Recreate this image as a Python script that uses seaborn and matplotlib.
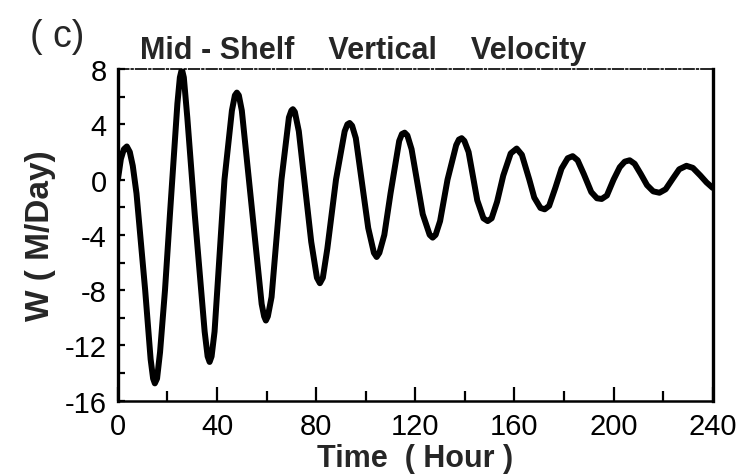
import pandas as pd
import matplotlib
matplotlib.use('Agg')
from matplotlib import pyplot as plt
from matplotlib.ticker import MultipleLocator
import seaborn as sns

# 读图得到的曲线点 (小时, 垂向速度 m/day)
time_hour = [0, 1.2, 2.4, 3.6, 4.8, 6, 7.5, 11, 13.2, 14.2, 14.9, 15.8, 17, 19, 21, 24, 25, 25.8,
             26.6, 28, 31, 35, 36.2, 37, 37.8, 39, 43, 46, 47.2, 48, 48.8, 50, 54, 58, 59,
             59.7, 60.5, 62, 66, 69, 70, 70.6, 71.4, 73, 78, 80.3, 81.5, 82.7, 84.5, 88,
             91.5, 92.6, 93.5, 94.5, 96, 101, 103.3, 104.4, 105.5, 107.5, 110, 113.5, 114.6,
             115.7, 116.8, 118.5, 123, 125.8, 127, 128.2, 130, 133, 136.5, 137.6, 138.7,
             139.8, 141.5, 145, 147.5, 149.2, 150.8, 153, 155.5, 158.5, 160.9, 163, 166,
             168, 170.5, 172.2, 174, 176.5, 179, 181.5, 183.5, 185.5, 188, 191, 193.3,
             195.2, 197.3, 200, 202.5, 204.5, 206.5, 208.5, 211, 213.5, 216, 218.5, 221,
             224, 226.5, 229.4, 232, 235, 237.5, 240]
w_velocity = [0, 1.5, 2.2, 2.4, 2.0, 1.0, -1.0, -8, -13, -14.4, -14.75, -14.4, -12.5, -8, -2.5, 5.5, 7.4, 8.0,
              7.4, 4.5, -2.5, -11, -12.8, -13.2, -12.8, -11, 0, 5, 6.1, 6.3, 6.1, 5.0, -2, -9, -9.9,
              -10.2, -9.9, -8.5, 0, 4.5, 5.0, 5.1, 4.9, 3.5, -4.5, -7.1, -7.5, -7.1, -5, 0,
              3.5, 4.0, 4.1, 3.9, 3, -3.5, -5.3, -5.6, -5.3, -4, -1, 2.8, 3.3,
              3.4, 3.2, 2.2, -2.5, -4.0, -4.2, -4.0, -3, 0, 2.5, 2.9, 3.0,
              2.8, 2.0, -1.5, -2.8, -3.0, -2.8, -1.6, 0.3, 1.9, 2.25, 1.8, 0,
              -1.3, -2.05, -2.15, -1.9, -0.6, 0.8, 1.55, 1.7, 1.4, 0.4, -0.9, -1.35,
              -1.4, -1.15, 0, 0.9, 1.3, 1.4, 1.15, 0.4, -0.4, -0.85, -0.95, -0.7,
              0.1, 0.75, 1.0, 0.85, 0.3, -0.2, -0.6]

x_ticks = [0, 40, 80, 120, 160, 200, 240]
y_ticks = [-16, -12, -8, -4, 0, 4, 8]

sns.set_style('ticks')
plt.rcParams['font.family'] = ['Liberation Sans', 'DejaVu Sans']

df = pd.DataFrame({'t': time_hour, 'w': w_velocity})

fig = plt.figure(figsize=(7.51, 4.77), dpi=100)
ax = fig.add_axes([0.157, 0.158, 0.792, 0.695])
sns.lineplot(data=df, x='t', y='w', ax=ax, color='black', linewidth=4.3,
             solid_joinstyle='round', solid_capstyle='round')

ax.set_xlim(0, 240)
ax.set_ylim(-16, 8)
ax.set_xticks(x_ticks)
ax.set_yticks(y_ticks)
ax.set_yticklabels([str(v) for v in y_ticks])
ax.xaxis.set_minor_locator(MultipleLocator(20))
ax.yaxis.set_minor_locator(MultipleLocator(2))
ax.tick_params(axis='both', which='both', direction='in', colors='black',
               labelsize=21, top=False, right=False)
ax.tick_params(axis='x', which='major', length=10, width=1.6, pad=8)
ax.tick_params(axis='x', which='minor', length=7, width=1.6)
ax.tick_params(axis='y', which='major', length=5, width=1.6, pad=8)
ax.tick_params(axis='y', which='minor', length=5, width=1.6)

for side in ['left', 'right', 'bottom', 'top']:
    ax.spines[side].set_visible(True)
    ax.spines[side].set_color('black')
ax.spines['left'].set_linewidth(2.4)
ax.spines['right'].set_linewidth(2.4)
ax.spines['bottom'].set_linewidth(1.8)
ax.spines['top'].set_linewidth(1.2)
ax.spines['top'].set_linestyle('-.')

ax.set_xlabel('Time  ( Hour )', fontsize=22, fontweight='bold', labelpad=2)
ax.set_ylabel('W ( M/Day)', fontsize=24, fontweight='bold', labelpad=6)

fig.text(0.187, 0.862, 'Mid - Shelf    Vertical    Velocity', fontsize=22, fontweight='bold',
         ha='left', va='bottom')
fig.text(0.04, 0.885, '( c)', fontsize=27, ha='left', va='bottom')

fig.savefig('out.png', dpi=100)
